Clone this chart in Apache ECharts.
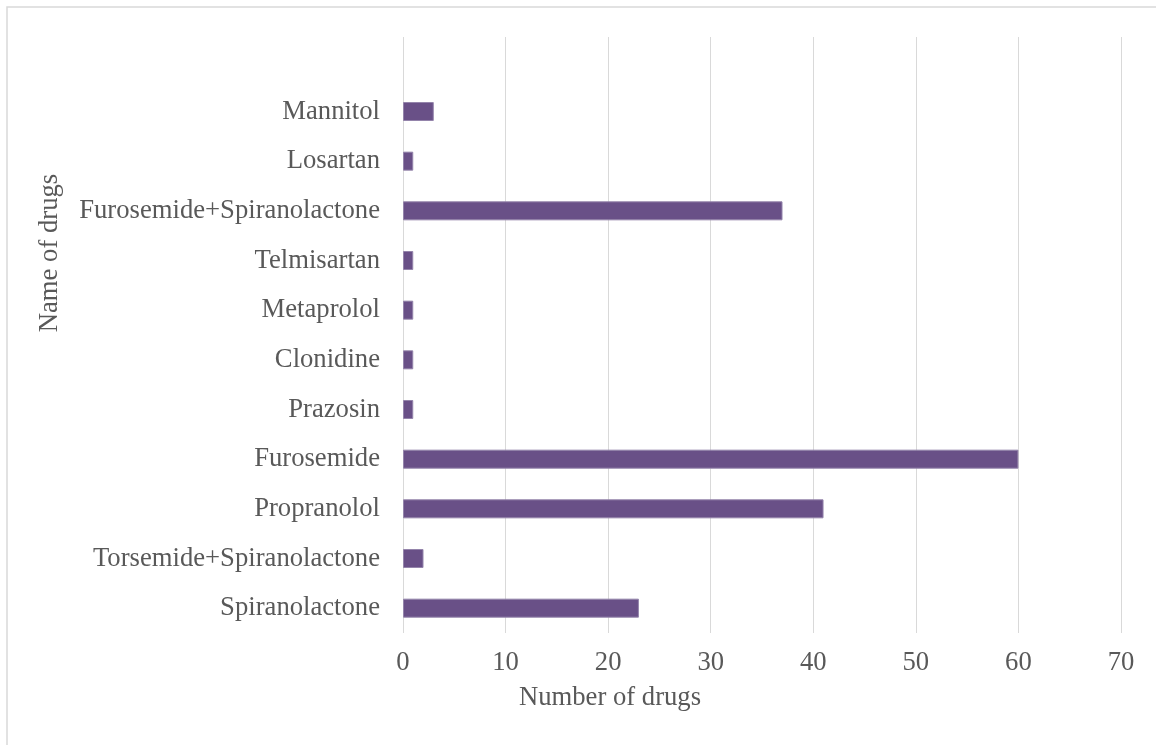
<!DOCTYPE html>
<html>
<head>
<meta charset="utf-8">
<script src="https://cdn.jsdelivr.net/npm/echarts@6/dist/echarts.min.js"></script>
<style>
html,body{margin:0;padding:0;background:#fff;}
#chart{width:1156px;height:745px;}
</style>
</head>
<body>
<div id="chart"></div>
<script>
// Categories listed bottom-to-top (ECharts category y-axis starts at the bottom); top slot is blank as in the reference
const categories = ['Spiranolactone', 'Torsemide+Spiranolactone', 'Propranolol', 'Furosemide', 'Prazosin', 'Clonidine', 'Metaprolol', 'Telmisartan', 'Furosemide+Spiranolactone', 'Losartan', 'Mannitol', ''];
const drugCounts = [23, 2, 41, 60, 1, 1, 1, 1, 37, 1, 3, null];
const xTicks = { min: 0, max: 70, interval: 10 };
const xTitle = 'Number of drugs';
const yTitle = 'Name of drugs';

const FONT = "'Liberation Serif', 'Times New Roman', serif";
const TEXT = '#595959';
const FS = 26.67;

const chart = echarts.init(document.getElementById('chart'), null, { renderer: 'canvas' });
chart.setOption({
  animation: false,
  backgroundColor: '#ffffff',
  grid: { left: 403, right: 35, top: 37, bottom: 112, containLabel: false },
  xAxis: {
    type: 'value',
    min: xTicks.min, max: xTicks.max, interval: xTicks.interval,
    axisLine: { show: false },
    axisTick: { show: false },
    splitLine: { show: true, lineStyle: { color: '#d9d9d9', width: 1 } },
    axisLabel: { color: TEXT, fontFamily: FONT, fontSize: FS, margin: 16 }
  },
  yAxis: {
    type: 'category',
    data: categories,
    axisLine: { show: false },
    axisTick: { show: false },
    splitLine: { show: false },
    axisLabel: { color: TEXT, fontFamily: FONT, fontSize: FS, margin: 23, interval: 0 }
  },
  series: [{
    type: 'bar',
    data: drugCounts,
    barWidth: 19,
    itemStyle: { color: '#695087', borderColor: '#9484ab', borderWidth: 1 }
  }],
  graphic: [
    {
      type: 'rect', silent: true,
      shape: { x: 7, y: 7, width: 1300, height: 900 },
      style: { fill: 'none', stroke: '#d9d9d9', lineWidth: 1.5 }
    },
    {
      type: 'text', silent: true,
      x: 610, y: 698,
      style: { text: xTitle, fill: TEXT, font: FS + "px " + FONT, align: 'center', verticalAlign: 'middle' }
    },
    {
      type: 'text', silent: true,
      x: 50, y: 253, rotation: Math.PI / 2,
      style: { text: yTitle, fill: TEXT, font: FS + "px " + FONT, align: 'center', verticalAlign: 'middle' }
    }
  ]
});
</script>
</body>
</html>
